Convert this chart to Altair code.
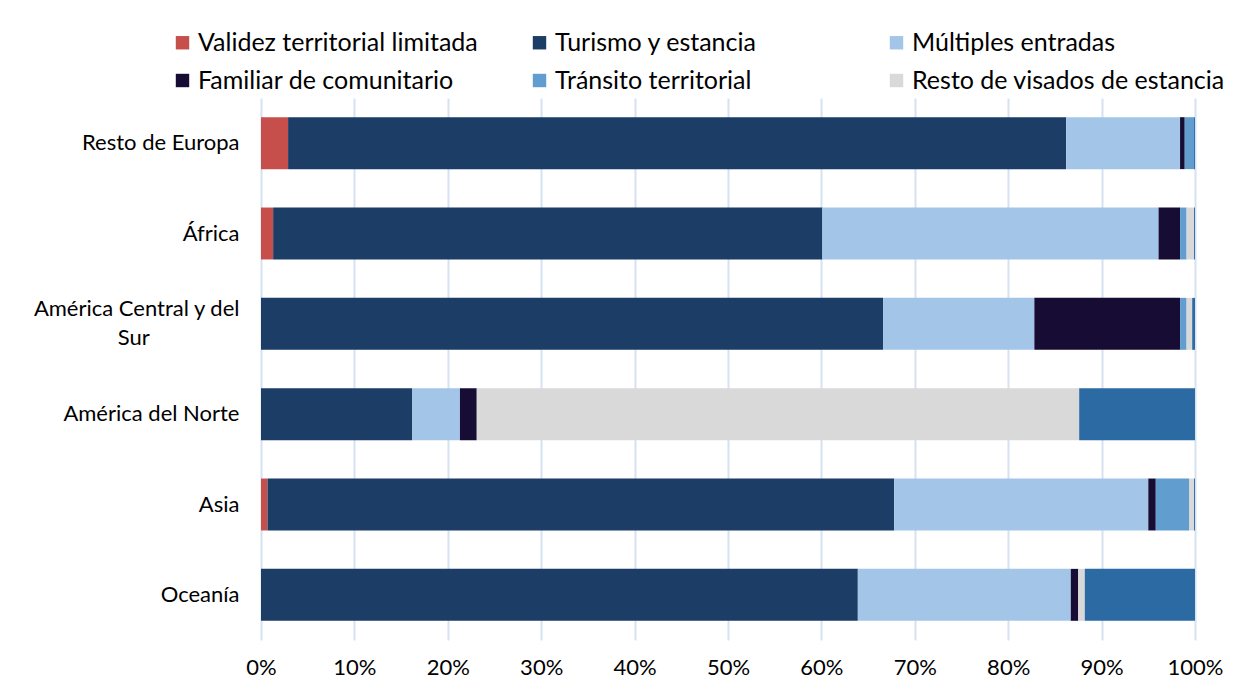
import altair as alt
import pandas as pd

regions = ["Resto de Europa", "África", "América Central y del Sur",
           "América del Norte", "Asia", "Oceanía"]
series = ["Validez territorial limitada", "Turismo y estancia", "Múltiples entradas",
          "Familiar de comunitario", "Tránsito territorial", "Resto de visados de estancia",
          "Otros"]
legend_series = series[:6]

validez = [2.9, 1.3, 0.0, 0.0, 0.7, 0.0]
turismo = [83.3, 58.8, 66.6, 16.2, 67.1, 63.9]
multiples = [12.2, 36.0, 16.2, 5.1, 27.2, 22.8]
familiar = [0.5, 2.3, 15.6, 1.8, 0.8, 0.8]
transito = [1.0, 0.7, 0.7, 0.0, 3.6, 0.0]
resto = [0.0, 0.8, 0.6, 64.5, 0.5, 0.7]
otros = [0.1, 0.1, 0.3, 12.4, 0.1, 11.8]

colors = ["#C64F4C", "#1B3D66", "#A3C6E8", "#170C33", "#619ECF", "#D9D9D9", "#2B6AA3"]

cols = [validez, turismo, multiples, familiar, transito, resto, otros]
rows = []
for si, (name, vals) in enumerate(zip(series, cols)):
    for r, v in zip(regions, vals):
        rows.append({"region": r, "serie": name, "valor": v, "orden": si})
df = pd.DataFrame(rows)

FONT = "Lato"
NB = "\u00a0" * 16 + "\u200b"

chart = alt.Chart(df).mark_bar().encode(
    y=alt.Y("region:N", sort=regions, title=None,
            scale=alt.Scale(paddingInner=0.425, paddingOuter=0.2125),
            axis=alt.Axis(labelFontSize=22, labelFont=FONT, labelColor="#000000",
                          ticks=False, domain=False, labelPadding=22, labelLimit=300,
                          labelExpr="datum.value == 'América Central y del Sur' ? ['América Central y del', 'Sur" + NB + "'] : datum.value",
                          labelLineHeight=29,
                          labelOffset={"condition": {"test": "datum.value == 'América Central y del Sur'", "value": -15}, "value": 0})),
    x=alt.X("valor:Q", stack="normalize", title=None,
            scale=alt.Scale(domain=[0, 1], nice=False),
            axis=alt.Axis(format=".0%", values=[i / 10 for i in range(11)],
                          labelFontSize=22, labelFont=FONT, labelColor="#000000",
                          ticks=False, domain=False, labelPadding=17, labelFlush=False,
                          grid=True, gridColor="#D6E2F1", gridWidth=2)),
    color=alt.Color("serie:N", scale=alt.Scale(domain=series, range=colors),
                    legend=alt.Legend(values=legend_series, title=None, orient="none",
                                      direction="horizontal",
                                      legendX=-91, legendY=-68, columns=3,
                                      gridAlign="all", columnPadding=16, rowPadding=12,
                                      symbolType="square", symbolSize=180,
                                      symbolStrokeWidth=0, labelFontSize=25,
                                      labelFont=FONT, labelColor="#000000",
                                      labelLimit=400, symbolOffset=0, labelOffset=3)),
    order=alt.Order("orden:Q", sort="ascending"),
).properties(
    width=934, height=542,
    padding={"left": 253, "top": 90, "right": 40, "bottom": 45},
    autosize=alt.AutoSizeParams(type="none"),
).configure_view(stroke=None)

chart.save("out.html", embed_options={"renderer": "svg", "actions": False})
